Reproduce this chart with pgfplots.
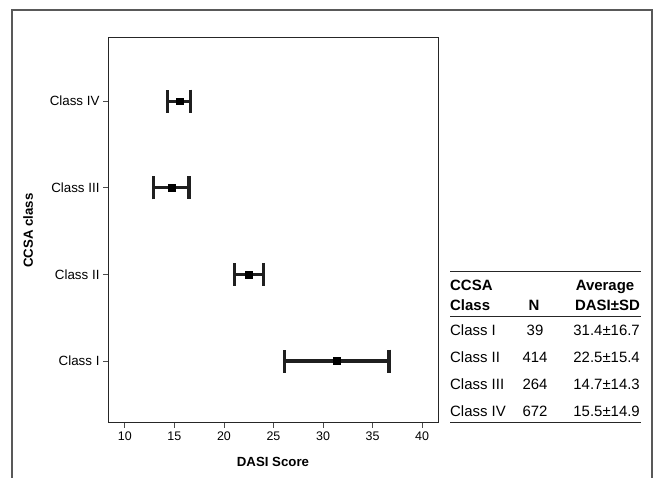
\documentclass[border=0pt]{standalone}
\usepackage{pgfplots}
\pgfplotsset{compat=1.18}
\usepackage{fontspec}
\setmainfont{Liberation Sans}

\begin{document}
\begin{tikzpicture}[x=1bp,y=1bp]
% page size and the open outer frame
\path (0,0) rectangle (658,478);
\draw[line width=1.4bp, black!65] (12,0) -- (12,468) -- (652,468) -- (652,0);

\begin{axis}[
    at={(108bp,55bp)}, anchor=south west,
    width=330bp, height=385bp, scale only axis,
    xmin=8.3, xmax=41.6,
    ymin=0.285, ymax=4.73,
    xtick={10,15,20,25,30,35,40},
    ytick={1,2,3,4},
    yticklabels={Class I, Class II, Class III, Class IV},
    xtick pos=bottom, ytick pos=left,
    tick align=outside, major tick length=5bp,
    tick style={black!70, line width=0.8bp},
    axis line style={black!85, line width=1bp},
    xticklabel style={font=\fontsize{12.5}{14}\selectfont},
    yticklabel style={font=\fontsize{13.4}{15}\selectfont},
    /pgf/number format/assume math mode=true,
    xlabel={\bfseries DASI Score},
    ylabel={\bfseries CCSA class},
    label style={font=\fontsize{13.3}{15}\selectfont},
    xlabel style={at={(axis description cs:0.5,-0.1)}, anchor=center},
    ylabel style={at={(axis description cs:-0.242,0.5)}, anchor=center},
]
% mean DASI with 95% CI
\addplot[only marks, mark=square*, mark size=3.4bp, black,
    error bars/.cd, x dir=both, x explicit, error mark=|,
    error bar style={line width=3.2bp, black!88},
    error mark options={line width=3.2bp, mark size=11.5bp, black!88}]
coordinates {
    (31.4,1) +- (5.25,0)
    (22.5,2) +- (1.47,0)
    (14.7,3) +- (1.78,0)
    (15.5,4) +- (1.16,0)
};
\end{axis}

% summary table
\begin{scope}[font=\fontsize{15}{17}\selectfont]
\draw[line width=1bp, black!85] (450,206) -- (641,206);
\draw[line width=1bp, black!85] (450,161) -- (641,161);
\draw[line width=1bp, black!85] (450,55.5) -- (641,55.5);
\node[anchor=base west, inner sep=0] at (450,187) {\bfseries CCSA};
\node[anchor=base west, inner sep=0] at (450,167) {\bfseries Class};
\node[anchor=base, inner sep=0] at (534,167) {\bfseries N};
\node[anchor=base, inner sep=0] at (605,187) {\bfseries Average};
\node[anchor=base east, inner sep=0] at (640,167) {\bfseries DASI±SD};
\node[anchor=base west, inner sep=0] at (450,142) {Class I};
\node[anchor=base west, inner sep=0] at (450,115) {Class II};
\node[anchor=base west, inner sep=0] at (450,88) {Class III};
\node[anchor=base west, inner sep=0] at (450,61) {Class IV};
\node[anchor=base, inner sep=0] at (535,142) {39};
\node[anchor=base, inner sep=0] at (535,115) {414};
\node[anchor=base, inner sep=0] at (535,88) {264};
\node[anchor=base, inner sep=0] at (535,61) {672};
\node[anchor=base east, inner sep=0] at (640,142) {31.4±16.7};
\node[anchor=base east, inner sep=0] at (640,115) {22.5±15.4};
\node[anchor=base east, inner sep=0] at (640,88) {14.7±14.3};
\node[anchor=base east, inner sep=0] at (640,61) {15.5±14.9};
\end{scope}
\end{tikzpicture}
\end{document}
